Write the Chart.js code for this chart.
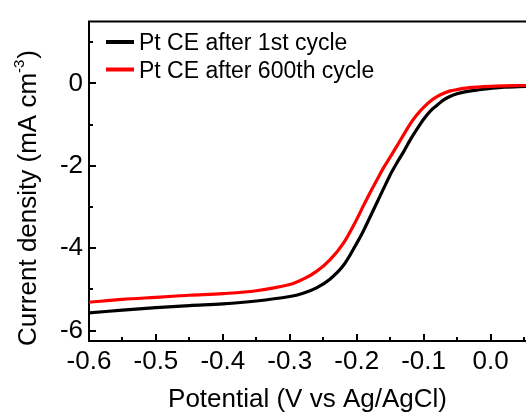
<!DOCTYPE html>
<html><head><meta charset="utf-8">
<script src="https://cdn.jsdelivr.net/npm/chart.js@4.4.1/dist/chart.umd.min.js"></script>
<style>
html,body{margin:0;padding:0;background:#fff;overflow:hidden}
#wrap{width:526px;height:414px;position:relative}
canvas{display:block}
</style>
</head><body>
<div id="wrap"><canvas id="c" width="526" height="414"></canvas></div>
<script>
// ---- data ----
const potential = [-0.6,-0.55,-0.5,-0.45,-0.4,-0.35,-0.3,-0.28,-0.26,-0.24,-0.22,-0.2,-0.19,-0.18,-0.17,-0.16,-0.15,-0.14,-0.13,-0.12,-0.11,-0.1,-0.09,-0.08,-0.07,-0.06,-0.05,-0.04,-0.02,0,0.02,0.053];
const cycle1st = [-5.57,-5.50,-5.44,-5.39,-5.35,-5.28,-5.17,-5.09,-4.96,-4.75,-4.42,-3.88,-3.58,-3.24,-2.90,-2.56,-2.22,-1.93,-1.66,-1.37,-1.11,-0.87,-0.67,-0.53,-0.40,-0.31,-0.25,-0.21,-0.16,-0.12,-0.09,-0.07];
const cycle600th = [-5.31,-5.24,-5.19,-5.14,-5.10,-5.03,-4.88,-4.75,-4.56,-4.28,-3.88,-3.30,-2.97,-2.65,-2.35,-2.05,-1.79,-1.52,-1.25,-0.98,-0.76,-0.58,-0.43,-0.32,-0.24,-0.18,-0.15,-0.12,-0.09,-0.07,-0.06,-0.05];
const seriesLabels = ['Pt CE after 1st cycle','Pt CE after 600th cycle'];
const seriesColors = ['#000000','#ff0000'];
const xMajorTicks = [-0.6,-0.5,-0.4,-0.3,-0.2,-0.1,0.0];
const xMajorLabels = ['-0.6','-0.5','-0.4','-0.3','-0.2','-0.1','0.0'];
const xMinorTicks = [-0.55,-0.45,-0.35,-0.25,-0.15,-0.05,0.05];
const yMajorTicks = [-6,-4,-2,0];
const yMajorLabels = ['-6','-4','-2','0'];
const yMinorTicks = [-5,-3,-1,1];
const xTitle = 'Potential (V vs Ag/AgCl)';
const yTitleMain = 'Current density (mA cm';
const yTitleSup = '-3';
const yTitleEnd = ')';

const FONT = "'Liberation Sans', Arial, Helvetica, sans-serif";

const toPts = (xs, ys) => xs.map((x,i)=>({x:x,y:ys[i]}));

const decor = {
  id:'decor',
  afterDraw(chart){
    const ctx = chart.ctx, ca = chart.chartArea;
    const xs = chart.scales.x, ys = chart.scales.y;
    ctx.save();
    // top frame line
    ctx.strokeStyle='#000'; ctx.lineWidth=2;
    ctx.beginPath(); ctx.moveTo(ca.left-1, ca.top); ctx.lineTo(ca.right, ca.top); ctx.stroke();
    // inward ticks
    ctx.lineWidth=2;
    const xt=(v,len)=>{const p=Math.round(xs.getPixelForValue(v)); ctx.beginPath(); ctx.moveTo(p, ca.bottom); ctx.lineTo(p, ca.bottom-len); ctx.stroke();};
    const yt=(v,len)=>{const p=Math.round(ys.getPixelForValue(v)); ctx.beginPath(); ctx.moveTo(ca.left, p); ctx.lineTo(ca.left+len, p); ctx.stroke();};
    xMajorTicks.forEach(v=>xt(v,7)); xMinorTicks.forEach(v=>xt(v,4));
    yMajorTicks.forEach(v=>yt(v,7)); yMinorTicks.forEach(v=>yt(v,4));
    // legend
    ctx.font = '23px ' + FONT;
    ctx.textBaseline='alphabetic'; ctx.textAlign='left';
    chart.data.datasets.forEach((ds,i)=>{
      const cy = 42 + i*27.5;
      ctx.strokeStyle = ds.borderColor; ctx.lineWidth = 4;
      ctx.beginPath(); ctx.moveTo(106, cy); ctx.lineTo(134, cy); ctx.stroke();
      ctx.fillStyle='#000';
      ctx.fillText(ds.label, 139, cy+8.3);
    });
    // y title with superscript
    ctx.translate(36, 0);
    ctx.rotate(-Math.PI/2);
    const mainF = '26px ' + FONT, supF = '15px ' + FONT;
    ctx.font = mainF; const w1 = ctx.measureText(yTitleMain).width; const w3 = ctx.measureText(yTitleEnd).width;
    ctx.font = supF; const w2 = ctx.measureText(yTitleSup).width;
    const total = w1+w2+w3+1;
    const cyMid = 198;
    let sx = -(cyMid + total/2);
    ctx.fillStyle='#000';
    ctx.font = mainF; ctx.fillText(yTitleMain, sx, 0); sx += w1;
    ctx.font = supF; ctx.fillText(yTitleSup, sx, -12); sx += w2 + 1;
    ctx.font = mainF; ctx.fillText(yTitleEnd, sx, 0);
    ctx.restore();
  }
};

new Chart(document.getElementById('c'), {
  type:'line',
  data:{
    datasets:[
      {label:seriesLabels[0], data:toPts(potential,cycle1st), borderColor:seriesColors[0], borderWidth:3.2, pointRadius:0, tension:0.35, fill:false, order:1},
      {label:seriesLabels[1], data:toPts(potential,cycle600th), borderColor:seriesColors[1], borderWidth:3.2, pointRadius:0, tension:0.35, fill:false, order:0}
    ]
  },
  options:{
    responsive:false, animation:false, devicePixelRatio:1,
    layout:{padding:{top:17,right:0,left:0,bottom:0}},
    plugins:{legend:{display:false}, tooltip:{enabled:false}},
    scales:{
      x:{type:'linear', min:-0.6, max:0.053,
        afterBuildTicks(s){ s.ticks = xMajorTicks.map(v=>({value:v})); },
        afterFit(s){ s.height = 73; },
        grid:{drawOnChartArea:false, drawTicks:false},
        border:{display:true, color:'#000', width:2},
        ticks:{color:'#000', font:{family:FONT, size:26}, padding:5, maxRotation:0, autoSkip:false,
          callback:(v,i)=>xMajorLabels[i]},
        title:{display:true, text:xTitle, color:'#000', font:{family:FONT, size:26}, padding:{top:0,bottom:-1}}
      },
      y:{type:'linear', min:-6.25, max:1.5,
        afterBuildTicks(s){ s.ticks = yMajorTicks.map(v=>({value:v})); },
        afterFit(s){ s.width = 89; },
        grid:{drawOnChartArea:false, drawTicks:false},
        border:{display:true, color:'#000', width:2},
        ticks:{color:'#000', font:{family:FONT, size:26}, padding:6, autoSkip:false,
          callback:(v,i)=>yMajorLabels[i]}
      }
    }
  },
  plugins:[decor]
});
</script>
</body></html>
